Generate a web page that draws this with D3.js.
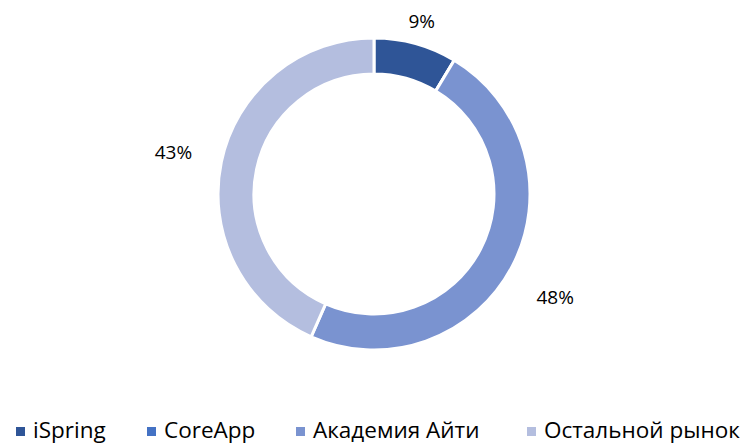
<!DOCTYPE html>
<html>
<head>
<meta charset="utf-8">
<script src="https://cdn.jsdelivr.net/npm/d3@7"></script>
<style>
  body { margin: 0; background: #fff; }
  svg { display: block; font-family: "Open Sans", "Noto Sans", sans-serif; }
</style>
</head>
<body>
<svg id="chart" width="749" height="444"></svg>
<script>
const width = 749;
const height = 444;

const categories = ["iSpring", "CoreApp", "Академия Айти", "Остальной рынок"];
const values = [8.6, 0, 48.0, 43.4];
const labels = ["9%", "", "48%", "43%"];
const colors = ["#2F5597", "#4472C4", "#7A93D0", "#B4BEDF"];

const svg = d3.select("#chart");

const cx = 374, cy = 194;
const outerR = 156, innerR = 120;

// label placement (radius from centre, extra vertical shift)
const labelRadius = [179, 0, 204, 205];
const labelShift = [0, 0, 9, 0];

const data = categories.map((c, i) => ({name: c, value: values[i], label: labels[i], color: colors[i], i: i}));

const pie = d3.pie().sort(null).value(d => d.value);
const arc = d3.arc().innerRadius(innerR).outerRadius(outerR);

const g = svg.append("g").attr("transform", `translate(${cx},${cy})`);

const arcs = pie(data);

g.selectAll("path")
  .data(arcs)
  .enter()
  .append("path")
  .attr("d", arc)
  .attr("fill", d => d.data.color)
  .attr("stroke", "#fff")
  .attr("stroke-width", 3);

g.selectAll("text")
  .data(arcs.filter(d => d.data.label))
  .enter()
  .append("text")
  .attr("transform", d => {
    const r = labelRadius[d.data.i];
    const [x, y] = d3.arc().innerRadius(r).outerRadius(r).centroid(d);
    return `translate(${x},${y + labelShift[d.data.i]})`;
  })
  .attr("text-anchor", "middle")
  .attr("dominant-baseline", "central")
  .attr("font-size", 19)
  .attr("fill", "#000")
  .text(d => d.data.label);

// legend
const legendX = [16, 147, 296, 527];
const legend = svg.append("g");
data.forEach((d, i) => {
  legend.append("rect")
    .attr("x", legendX[i])
    .attr("y", 427)
    .attr("width", 9)
    .attr("height", 9)
    .attr("fill", d.color);
  legend.append("text")
    .attr("x", legendX[i] + 17)
    .attr("y", 438)
    .attr("font-size", 22.5)
    .attr("fill", "#000")
    .text(d.name);
});
</script>
</body>
</html>
